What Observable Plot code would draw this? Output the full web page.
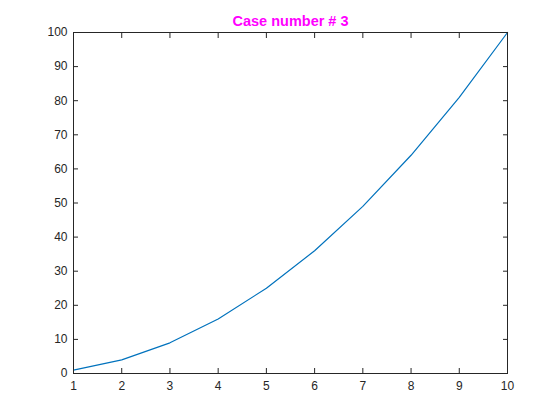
<!DOCTYPE html>
<html>
<head>
<meta charset="utf-8">
<script src="https://cdn.jsdelivr.net/npm/d3@7"></script>
<script src="https://cdn.jsdelivr.net/npm/@observablehq/plot@0.6"></script>
<style>
  html, body { margin: 0; padding: 0; background: #fff; }
  #chart svg { display: block; }
</style>
</head>
<body>
<div id="chart"></div>
<script>
const xValues = [1, 2, 3, 4, 5, 6, 7, 8, 9, 10];
const yValues = [1, 4, 9, 16, 25, 36, 49, 64, 81, 100];
const xTicks = [1, 2, 3, 4, 5, 6, 7, 8, 9, 10];
const yTicks = [0, 10, 20, 30, 40, 50, 60, 70, 80, 90, 100];
const titleText = "Case number # 3";

const data = xValues.map((x, i) => ({x, y: yValues[i]}));
const axisColor = "#262626";

const chart = Plot.plot({
  width: 560,
  height: 420,
  marginLeft: 73,
  marginRight: 53,
  marginTop: 32,
  marginBottom: 47,
  style: {fontFamily: "'Liberation Sans', Arial, sans-serif", fontSize: "12px", color: axisColor, background: "#fff"},
  x: {domain: [1, 10]},
  y: {domain: [0, 100]},
  marks: [
    Plot.line(data, {x: "x", y: "y", stroke: "#0072BD", strokeWidth: 1.2}),
    Plot.frame({stroke: axisColor, strokeWidth: 1}),
    Plot.axisX(xTicks, {anchor: "bottom", tickSize: 0, tickPadding: 8, stroke: axisColor, fill: axisColor, label: null}),
    Plot.axisY(yTicks, {anchor: "left", tickSize: 0, tickPadding: 6, stroke: axisColor, fill: axisColor, label: null}),
    Plot.axisX(xTicks, {anchor: "bottom", tickSize: -5, text: null, stroke: axisColor, label: null}),
    Plot.axisX(xTicks, {anchor: "top", tickSize: -5, text: null, stroke: axisColor, label: null}),
    Plot.axisY(yTicks, {anchor: "left", tickSize: -5, text: null, stroke: axisColor, label: null}),
    Plot.axisY(yTicks, {anchor: "right", tickSize: -5, text: null, stroke: axisColor, label: null}),
    Plot.text([titleText], {text: d => d, frameAnchor: "top", lineAnchor: "bottom", dy: -7, fill: "#FF00FF", fontWeight: "bold", fontSize: 14.5})
  ]
});
document.getElementById("chart").appendChild(chart);
</script>
</body>
</html>
